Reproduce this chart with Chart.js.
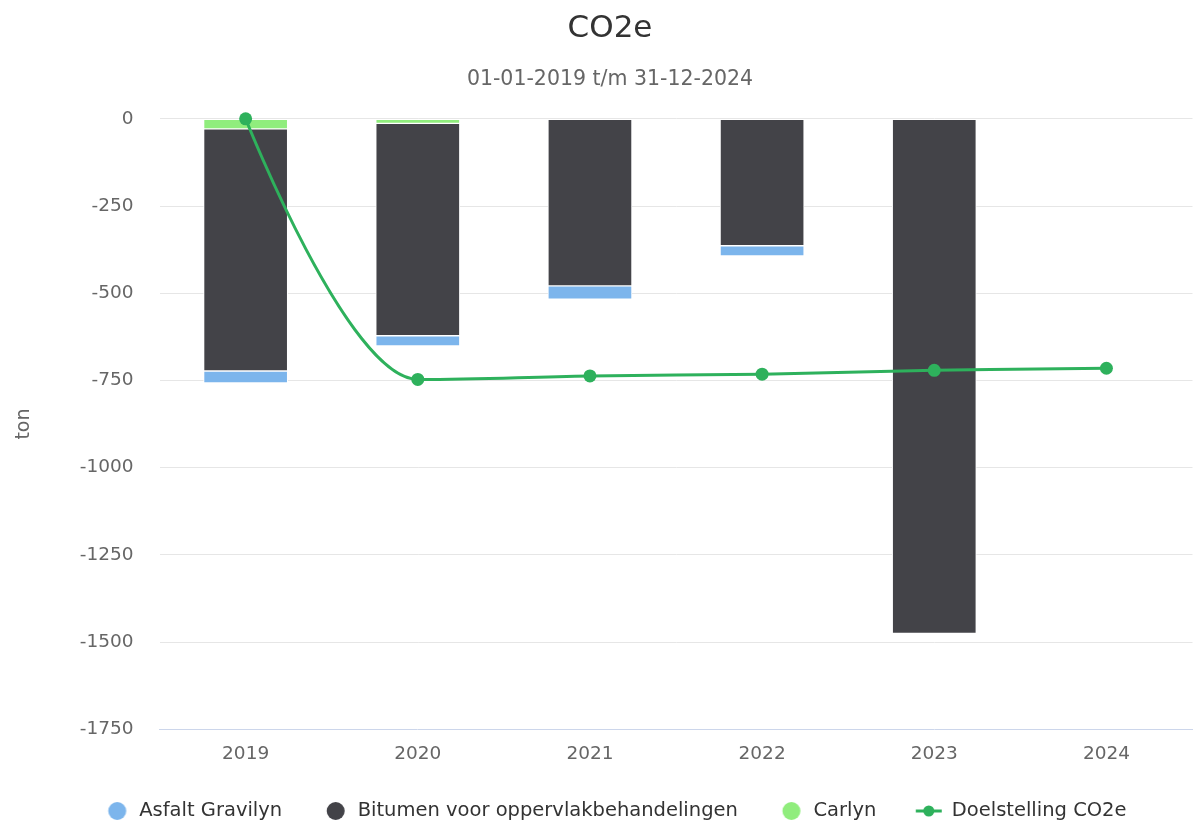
<!DOCTYPE html>
<html>
<head>
<meta charset="utf-8">
<script src="https://cdn.jsdelivr.net/npm/chart.js@4/dist/chart.umd.min.js"></script>
<style>
  html, body { margin: 0; padding: 0; background: #ffffff; }
  canvas { display: block; }
</style>
</head>
<body>
<canvas id="c" width="1199" height="823"></canvas>
<script>
// ---- Data ----
const categories = ['2019', '2020', '2021', '2022', '2023', '2024'];
const carlyn = [-29, -13, null, null, null, null];
const bitumen = [-694, -609, -479, -364, -1475, null];
const asfaltGravilyn = [-34, -29, -38, -29, null, null];
const doelstelling = [0, -747, -737, -732, -721, -715];
const yTickValues = [0, -250, -500, -750, -1000, -1250, -1500, -1750];
const legendOrder = ['Asfalt Gravilyn', 'Bitumen voor oppervlakbehandelingen', 'Carlyn', 'Doelstelling CO2e'];

const FONT = "'DejaVu Sans', 'Liberation Sans', sans-serif";
Chart.defaults.font.family = FONT;

const lineColor = '#2eb15c';
const ICON_W = 36;

// legend icons (transparent margin on the left gives the item spacing)
function circleIcon(color) {
  const c = document.createElement('canvas');
  c.width = ICON_W; c.height = 20;
  const g = c.getContext('2d');
  g.fillStyle = color;
  g.beginPath(); g.arc(23.75, 10, 9, 0, Math.PI * 2); g.fill();
  return c;
}
function lineIconMake(color) {
  const c = document.createElement('canvas');
  c.width = ICON_W; c.height = 14;
  const g = c.getContext('2d');
  g.strokeStyle = color; g.lineWidth = 3;
  g.beginPath(); g.moveTo(9.75, 7); g.lineTo(35.75, 7); g.stroke();
  g.fillStyle = color;
  g.beginPath(); g.arc(22.75, 7, 5.5, 0, Math.PI * 2); g.fill();
  return c;
}

// Highcharts-like spline drawn from the library's point positions
const hcSpline = {
  id: 'hcSpline',
  beforeDatasetDraw(chart, args) {
    const ds = chart.data.datasets[args.index];
    if (!ds.hcSpline) return;
    const pts = args.meta.data.filter(p => !p.skip).map(p => ({ x: p.x, y: p.y }));
    const sm = 1.5, den = 2.5;
    for (let i = 1; i < pts.length - 1; i++) {
      const p = pts[i], l = pts[i - 1], n = pts[i + 1];
      let lcx = (sm * p.x + l.x) / den, lcy = (sm * p.y + l.y) / den;
      let rcx = (sm * p.x + n.x) / den, rcy = (sm * p.y + n.y) / den;
      if (rcx !== lcx) {
        const corr = ((rcy - lcy) * (rcx - p.x)) / (rcx - lcx) + p.y - rcy;
        lcy += corr; rcy += corr;
      }
      if (lcy > l.y && lcy > p.y) { lcy = Math.max(l.y, p.y); rcy = 2 * p.y - lcy; }
      else if (lcy < l.y && lcy < p.y) { lcy = Math.min(l.y, p.y); rcy = 2 * p.y - lcy; }
      if (rcy > n.y && rcy > p.y) { rcy = Math.max(n.y, p.y); lcy = 2 * p.y - rcy; }
      else if (rcy < n.y && rcy < p.y) { rcy = Math.min(n.y, p.y); lcy = 2 * p.y - rcy; }
      p.lc = { x: lcx, y: lcy }; p.rc = { x: rcx, y: rcy };
    }
    const ctx = chart.ctx;
    ctx.save();
    ctx.strokeStyle = ds.borderColor;
    ctx.lineWidth = ds.hcLineWidth;
    ctx.lineJoin = 'round'; ctx.lineCap = 'round';
    ctx.beginPath();
    ctx.moveTo(pts[0].x, pts[0].y);
    for (let i = 1; i < pts.length; i++) {
      const a = pts[i - 1], b = pts[i];
      const c1 = a.rc || a, c2 = b.lc || b;
      ctx.bezierCurveTo(c1.x, c1.y, c2.x, c2.y, b.x, b.y);
    }
    ctx.stroke();
    ctx.restore();
  }
};

const barCommon = {
  type: 'bar',
  borderColor: '#ffffff',
  borderWidth: 1,
  borderSkipped: false,
  barThickness: 84,
  stack: 'co2'
};

new Chart(document.getElementById('c'), {
  data: {
    labels: categories,
    datasets: [
      Object.assign({ label: 'Carlyn', data: carlyn, backgroundColor: '#90ed7d' }, barCommon),
      Object.assign({ label: 'Bitumen voor oppervlakbehandelingen', data: bitumen, backgroundColor: '#434348' }, barCommon),
      Object.assign({ label: 'Asfalt Gravilyn', data: asfaltGravilyn, backgroundColor: '#7cb5ec' }, barCommon),
      {
        type: 'line',
        label: 'Doelstelling CO2e',
        data: doelstelling,
        borderColor: lineColor,
        backgroundColor: lineColor,
        hcSpline: true,
        hcLineWidth: 3,
        showLine: false,
        clip: false,
        pointRadius: 6.5,
        pointBorderWidth: 0,
        pointBackgroundColor: lineColor,
        stack: 'line',
        order: -1
      }
    ]
  },
  options: {
    responsive: false,
    animation: false,
    layout: { padding: { left: 21, right: 0, top: 0, bottom: -7.75 } },
    plugins: {
      tooltip: { enabled: false },
      title: {
        display: true,
        text: 'CO2e',
        color: '#333333',
        font: { size: 31, weight: 'normal', family: FONT },
        padding: { top: 10, bottom: 20 }
      },
      subtitle: {
        display: true,
        text: '01-01-2019 t/m 31-12-2024',
        color: '#666666',
        font: { size: 20.5, weight: 'normal', family: FONT },
        padding: { top: 0, bottom: 27 }
      },
      legend: {
        position: 'bottom',
        labels: {
          usePointStyle: true,
          boxWidth: ICON_W,
          pointStyleWidth: ICON_W,
          boxHeight: 13,
          padding: 29.75,
          color: '#333333',
          font: { size: 19.5, family: FONT },
          generateLabels(chart) {
            const items = Chart.defaults.plugins.legend.labels.generateLabels(chart);
            items.forEach(it => {
              const ds = chart.data.datasets[it.datasetIndex];
              it.pointStyle = ds.type === 'line' ? lineIconMake(ds.borderColor) : circleIcon(ds.backgroundColor);
              it.lineWidth = 0;
              it.strokeStyle = 'rgba(0,0,0,0)';
            });
            return items;
          },
          sort: (a, b) => legendOrder.indexOf(a.text) - legendOrder.indexOf(b.text)
        }
      }
    },
    scales: {
      x: {
        stacked: true,
        grid: { display: false },
        border: { display: true, color: '#ccd6eb', width: 1 },
        ticks: { color: '#666666', font: { size: 18.5 }, padding: 6 }
      },
      y: {
        stacked: true,
        min: -1750,
        max: 0,
        afterBuildTicks(scale) { scale.ticks = yTickValues.map(v => ({ value: v })); },
        grid: {
          color: c => (c.tick && c.tick.value === -1750 ? 'rgba(0,0,0,0)' : '#e6e6e6'),
          drawTicks: false
        },
        border: { display: false },
        ticks: {
          color: '#666666',
          font: { size: 18.5 },
          padding: 26,
          callback: v => String(v)
        },
        title: {
          display: true,
          text: 'ton',
          color: '#666666',
          font: { size: 19 },
          padding: { top: -8, bottom: 18 }
        }
      }
    }
  },
  plugins: [hcSpline]
});
</script>
</body>
</html>
